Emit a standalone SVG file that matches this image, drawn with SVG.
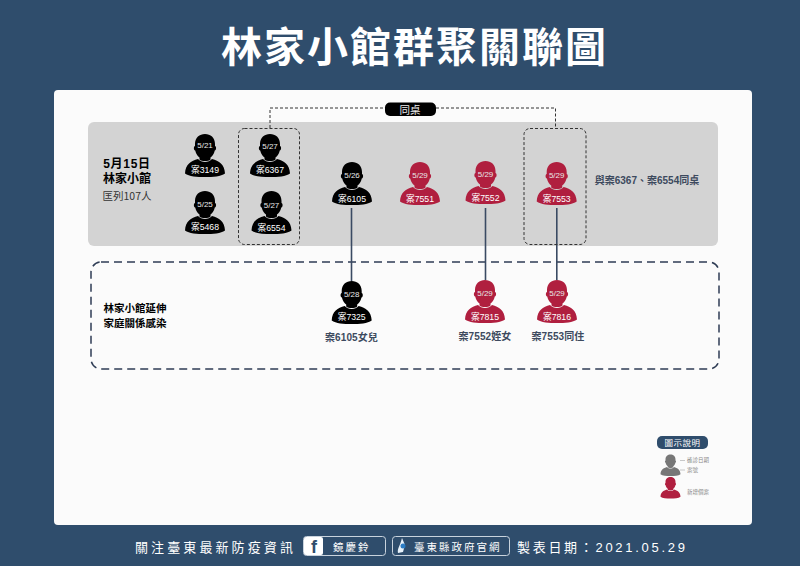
<svg xmlns="http://www.w3.org/2000/svg" width="800" height="566" viewBox="0 0 800 566">
<style>
text{font-family:"Noto Sans CJK TC","Liberation Sans",sans-serif}
.d{font-family:"Liberation Sans","Noto Sans CJK TC",sans-serif;font-size:8px;fill:#e8e8e8;text-anchor:middle}
.c{font-family:"Liberation Sans","Noto Sans CJK TC",sans-serif;font-size:8.700px;fill:#fff;text-anchor:middle}
.l{font-family:"Liberation Sans","Noto Sans CJK TC",sans-serif;font-size:10px;font-weight:700;fill:#3d4a5e;text-anchor:middle;letter-spacing:0.100px}
.k{font-family:"Liberation Sans","Noto Sans CJK TC",sans-serif;font-size:12px;font-weight:700;fill:#000;text-anchor:middle}
.dash{fill:none;stroke:#333;stroke-width:1;stroke-dasharray:3 2}
.link{stroke:#3a4a63;stroke-width:1.6;fill:none}
.f{font-family:"Liberation Sans","Noto Sans CJK TC",sans-serif;font-size:13px;fill:#fff;letter-spacing:3.100px}
.b{fill:none;stroke:#c9d3dd;stroke-width:1}
.lg{font-size:5.500px;fill:#888}
</style>
<defs>
<symbol id="p" overflow="visible" viewBox="-20 0 40 43" width="40" height="43">
<path d="M-10 10C-10 3.500-5.500 0 0 0C5.500 0 10 3.500 10 10L10 12C11.500 12.300 11.500 16 9.800 16.500C9 20 7 22.500 5.500 23.500L5.500 25.500C3.500 27.500 -3.500 27.500-5.500 25.500L-5.500 23.500C-7 22.500-9 20-9.800 16.500C-11.500 16-11.500 12.300-10 12Z"/>
<path d="M-7 25C-3.500 29 3.500 29 7 25C14 27 19.500 30 20 39.500C16 42.500 8 43 0 43C-8 43-16 42.500-20 39.500C-19.500 30-14 27-7 25Z"/>
</symbol>
</defs>
<rect width="800" height="566" fill="#2f4d6c"/>
<rect x="54" y="90" width="698" height="435" rx="4" fill="#fbfbfb"/>
<text x="414.500" y="62" font-size="41" font-weight="700" fill="#fff" text-anchor="middle" letter-spacing="2">林家小館群聚關聯圖</text>
<rect x="88" y="122" width="630" height="124" rx="6" fill="#d3d3d3"/>
<rect x="91" y="262" width="628" height="107" rx="10" fill="none" stroke="#2f3d55" stroke-width="1.5" stroke-dasharray="8 5"/>

<g id="connectors">
<path class="dash" d="M270 128V108H385"/>
<path class="dash" d="M436 108H555.500V128"/>
<path class="link" d="M351.500 208V281"/>
<path class="link" d="M485.500 208V280"/>
<path class="link" d="M556.800 208V280"/>
</g>

<g id="group-left"><rect class="dash" x="238.500" y="128.500" width="61" height="116" rx="6"/></g>
<g id="group-right"><rect class="dash" x="524" y="128.500" width="62" height="116" rx="6"/></g>
<g id="tag"><rect x="385" y="102.500" width="51" height="13.500" rx="5" fill="#000"/><text x="410" y="113.500" font-size="10.500" fill="#eee" text-anchor="middle">同桌</text></g>

<g id="venue">
<text x="127" y="168" class="k" style="letter-spacing:0.700px">5月15日</text>
<text x="127" y="183" class="k">林家小館</text>
<text x="127" y="200" font-size="10.500" fill="#333" text-anchor="middle">匡列107人</text>
</g>

<g id="n3149" fill="#000"><use href="#p" x="185" y="134"/><text class="d" x="205" y="148">5/21</text><text class="c" x="205" y="172.500">案3149</text></g>
<g id="n5468" fill="#000"><use href="#p" x="185" y="191"/><text class="d" x="205" y="207">5/25</text><text class="c" x="205" y="229.500">案5468</text></g>
<g id="n6367" fill="#000"><use href="#p" x="250" y="134"/><text class="d" x="270" y="149">5/27</text><text class="c" x="270" y="172.500">案6367</text></g>
<g id="n6554" fill="#000"><use href="#p" x="251.500" y="191"/><text class="d" x="271.500" y="208">5/27</text><text class="c" x="271.500" y="230.500">案6554</text></g>
<g id="n6105" fill="#000"><use href="#p" x="332" y="162"/><text class="d" x="352" y="178">5/26</text><text class="c" x="352" y="201.500">案6105</text></g>
<g id="n7551" fill="#b01f3f"><use href="#p" x="400" y="162"/><text class="d" x="420" y="178">5/29</text><text class="c" x="420" y="201.500">案7551</text></g>
<g id="n7552" fill="#b01f3f"><use href="#p" x="465.500" y="161"/><text class="d" x="485.500" y="177">5/29</text><text class="c" x="485.500" y="200.500">案7552</text></g>
<g id="n7553" fill="#b01f3f"><use href="#p" x="536.700" y="162"/><text class="d" x="556.700" y="178">5/29</text><text class="c" x="556.700" y="201.500">案7553</text></g>
<g id="n7325" fill="#000"><use href="#p" x="331.700" y="281"/><text class="d" x="351.700" y="297">5/28</text><text class="c" x="351.700" y="320">案7325</text></g>
<g id="n7815" fill="#b01f3f"><use href="#p" x="465" y="280"/><text class="d" x="485" y="296">5/29</text><text class="c" x="485" y="320">案7815</text></g>
<g id="n7816" fill="#b01f3f"><use href="#p" x="537" y="280"/><text class="d" x="557" y="296">5/29</text><text class="c" x="557" y="320">案7816</text></g>

<text class="l" x="351.500" y="341">案6105女兒</text>
<text class="l" x="485" y="340">案7552姪女</text>
<text class="l" x="558" y="340">案7553同住</text>
<text x="647" y="184" font-size="10" font-weight="700" fill="#3d4a5e" text-anchor="middle" style="font-family:'Liberation Sans','Noto Sans CJK TC',sans-serif">與案6367、案6554同桌</text>
<text x="135" y="312" class="k" style="font-size:10.500px">林家小館延伸</text>
<text x="135" y="327" class="k" style="font-size:10.500px">家庭關係感染</text>

<g id="legend">
<rect x="657" y="436" width="51" height="13" rx="5" fill="#2f4d6c"/>
<text x="682.500" y="446" font-size="8.500" fill="#fff" text-anchor="middle" letter-spacing="0.500">圖示說明</text>
<use href="#p" x="660.500" y="454.500" width="20" height="21.500" fill="#777"/>
<path d="M680 460.500H685M680 470H685" stroke="#bbb" stroke-width="0.800" fill="none"/>
<text class="lg" x="687" y="462">確診日期</text>
<text class="lg" x="687" y="472">案號</text>
<use href="#p" x="660.500" y="477" width="20" height="21.500" fill="#b01f3f"/>
<text class="lg" x="687" y="493.500">新增個案</text>
</g>

<g id="footer">
<text class="f" x="135" y="551.500">關注臺東最新防疫資訊</text>
<rect class="b" x="303.500" y="536.500" width="82" height="19" rx="3"/>
<rect x="304" y="537" width="19" height="18" rx="2" fill="#fff"/>
<text x="314" y="553" font-size="18" font-weight="700" fill="#2f4d6c" text-anchor="middle" style="font-family:'Liberation Sans',sans-serif">f</text>
<text class="f" x="333" y="550.500" style="font-size:10.500px;letter-spacing:2px">鏡慶鈴</text>
<rect class="b" x="392.500" y="536.500" width="117" height="19" rx="3"/>
<path d="M402 538L405 545L403 552L398 553C397 549 400 546 402 538Z" fill="#e8f2fa"/>
<circle cx="403" cy="546" r="2.500" fill="#2b7cc4"/>
<text class="f" x="414" y="550.500" style="font-size:10.500px;letter-spacing:2px">臺東縣政府官網</text>
<text class="f" x="517" y="551.500" style="letter-spacing:2.700px">製表日期：2021.05.29</text>
</g>
</svg>
